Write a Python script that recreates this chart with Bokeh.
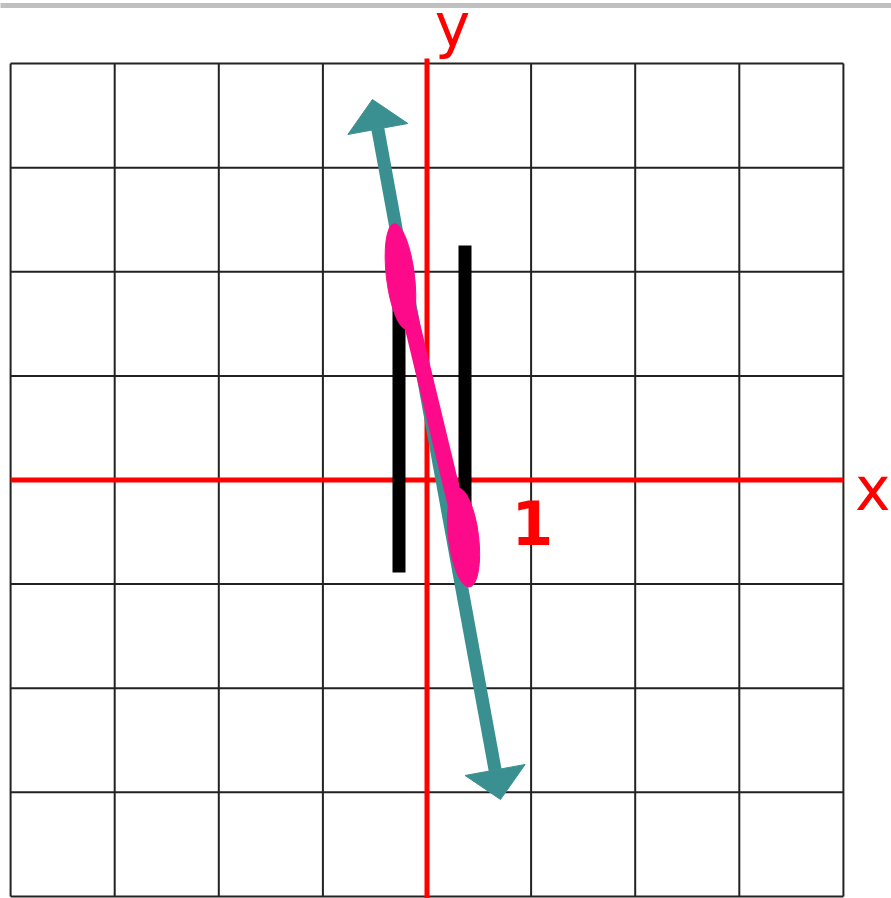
import numpy as np
from bokeh.plotting import figure
from bokeh.models import Range1d
from bokeh.embed import file_html
from bokeh.resources import INLINE
from bokeh.core.properties import value

# ---- data ----
grid_ticks = [-4, -3, -2, -1, 0, 1, 2, 3, 4]
x_axis_label = "x"
y_axis_label = "y"
tick_labels = ["1"]
tick_values = [1]

# line with arrows at both ends (tips)
arrow_x = [-0.524, 0.706]
arrow_y = [3.655, -3.069]

# highlighted points (pink ellipses) and the segment joining them
ellipse_x = [-0.255, 0.351]
ellipse_y = [1.955, -0.552]
ellipse_w = [0.27, 0.29]
ellipse_h = [1.02, 0.96]

# vertical line test bars
bar_x = [-0.269, 0.365]
bar_y0 = [-0.889, 2.253]
bar_y1 = [1.95, -0.55]

# ---- styles ----
TEAL = "#3a9090"
PINK = "#fc0a8a"
RED = "#ff0000"
HEAD_LEN = 0.288
HEAD_HALF_W = 0.293

p = figure(width=891, height=898, output_backend="svg", toolbar_location=None,
           x_range=Range1d(-4.0970, 4.4620), y_range=Range1d(-4.0202, 4.6061),
           x_axis_type=None, y_axis_type=None, min_border=0)
p.outline_line_color = None
p.grid.visible = False
p.background_fill_color = "white"

gmin, gmax = min(grid_ticks), max(grid_ticks)

# grid
p.segment(x0=grid_ticks, y0=[gmin] * len(grid_ticks), x1=grid_ticks, y1=[gmax] * len(grid_ticks),
          line_color="#222222", line_width=2)
p.segment(x0=[gmin] * len(grid_ticks), y0=grid_ticks, x1=[gmax] * len(grid_ticks), y1=grid_ticks,
          line_color="#222222", line_width=2)

# red axes
p.segment(x0=[gmin], y0=[0], x1=[gmax], y1=[0], line_color=RED, line_width=5)
p.segment(x0=[0], y0=[4.05], x1=[0], y1=[-4.1], line_color=RED, line_width=5)

# black bars
p.segment(x0=bar_x, y0=bar_y0, x1=bar_x, y1=bar_y1, line_color="black", line_width=13,
          line_cap="butt")

# teal arrow line with heads
T1 = np.array([arrow_x[0], arrow_y[0]])
T2 = np.array([arrow_x[1], arrow_y[1]])
u = (T1 - T2) / np.linalg.norm(T1 - T2)
n = np.array([-u[1], u[0]])
B1 = T1 - HEAD_LEN * u
B2 = T2 + HEAD_LEN * u
p.line(x=[B1[0], B2[0]], y=[B1[1], B2[1]], line_color=TEAL, line_width=13)
heads_x, heads_y = [], []
for T, B in ((T1, B1), (T2, B2)):
    c1 = B + HEAD_HALF_W * n
    c2 = B - HEAD_HALF_W * n
    heads_x.append([T[0], c1[0], c2[0]])
    heads_y.append([T[1], c1[1], c2[1]])
p.patches(xs=heads_x, ys=heads_y, fill_color=TEAL, line_color=TEAL, line_width=1)

# pink highlight
p.line(x=ellipse_x, y=ellipse_y, line_color=PINK, line_width=16)
p.ellipse(x=ellipse_x, y=ellipse_y, width=ellipse_w, height=ellipse_h, angle=0.12,
          fill_color=PINK, line_color=PINK)

# labels
p.text(x=[0.245], y=[4.370], text=[y_axis_label], text_color=RED, text_font=value("DejaVu Sans"),
       text_font_size="60px", text_align="center", text_baseline="middle")
p.text(x=[4.452], y=[-0.086], text=[x_axis_label], text_color=RED, text_font=value("DejaVu Sans"),
       text_font_size="60px", text_align="right", text_baseline="middle")
p.text(x=[v + 0.013 for v in tick_values], y=[-0.413] * len(tick_values), text=tick_labels,
       text_color=RED, text_font=value("DejaVu Sans"), text_font_style="bold",
       text_font_size="60px", text_align="center", text_baseline="middle")

# top gray bar (page chrome)
p.segment(x0=[-4.2], y0=[4.558], x1=[4.6], y1=[4.558], line_color="#c0c0c0", line_width=5)

open("out.html", "w").write(file_html(p, INLINE))
